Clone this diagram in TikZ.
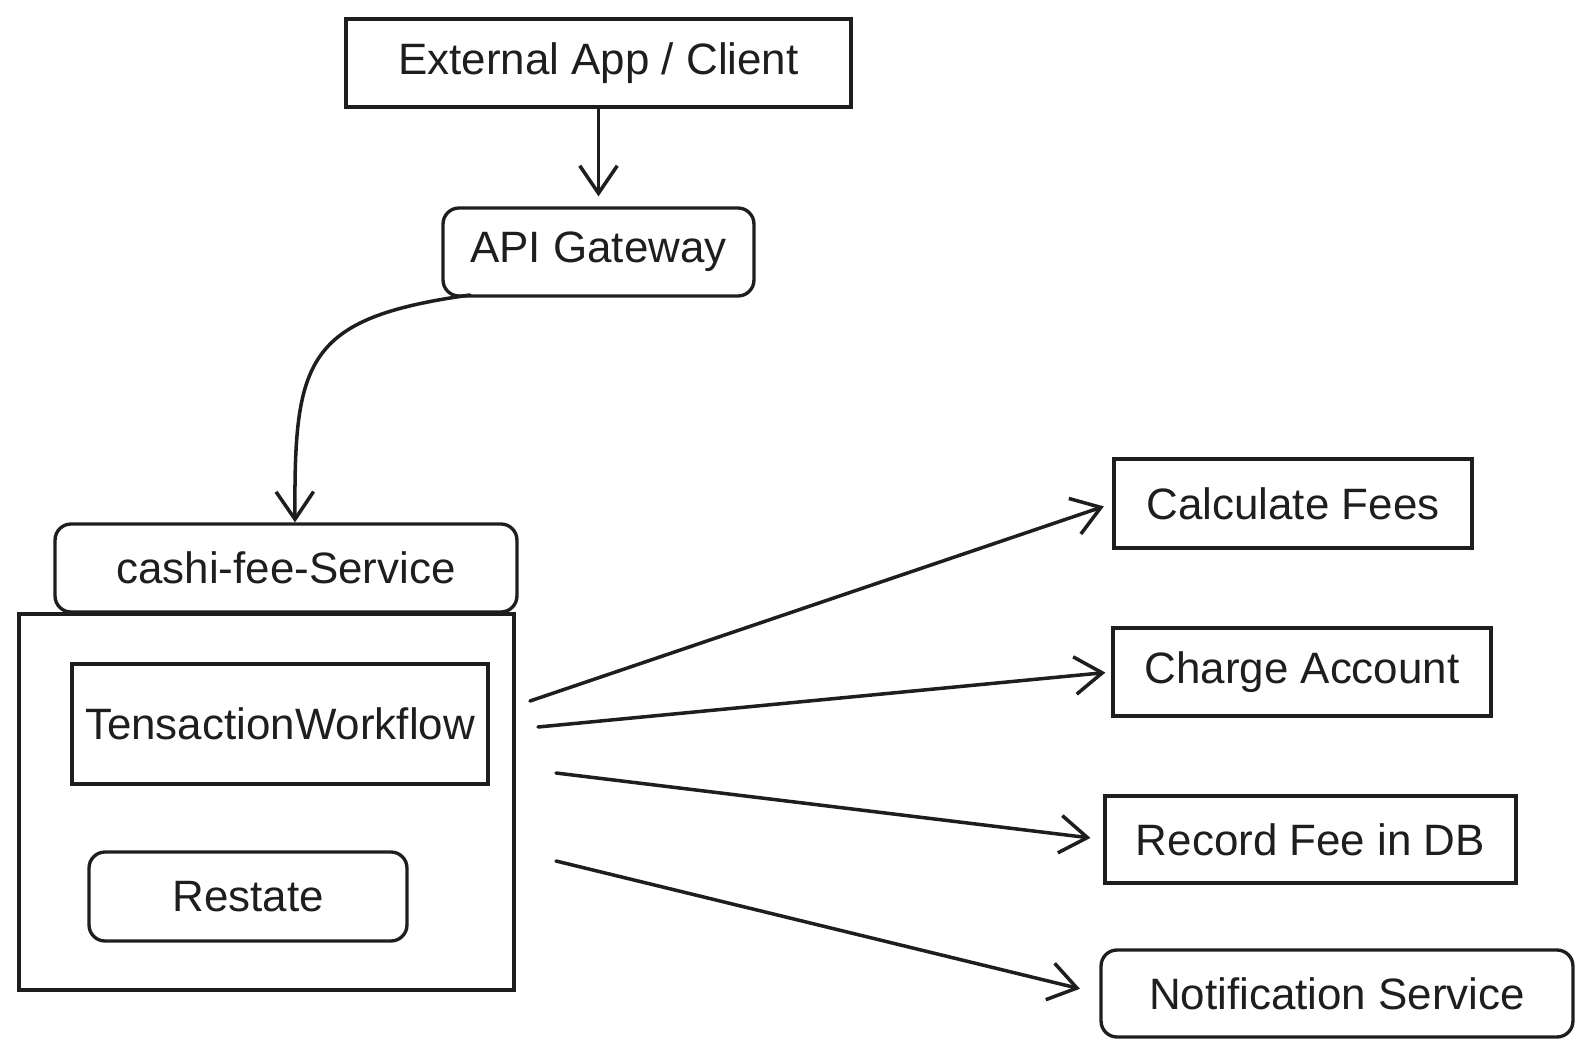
\documentclass[tikz,border=0pt]{standalone}
\usepackage{fontspec}
\setmainfont{Liberation Sans}
\usepackage{tikz}
\usetikzlibrary{arrows.meta,positioning,calc}

\definecolor{ink}{HTML}{1E1E1E}
\tikzset{
  box/.style={draw=ink, line width=1.9pt, inner sep=0pt, text=ink, font=\fontsize{25}{28}\selectfont},
  rbox/.style={box, rounded corners=0.32cm},
  flowarrow/.style={draw=ink, line width=2pt, line cap=round, -{Straight Barb[length=0.55cm, width=0.75cm, line width=2pt]}}
}

\begin{document}
\begin{tikzpicture}[x=0.02cm, y=-0.02cm]
    \useasboundingbox (0,0) rectangle (1593,1058);

    % top of the chain
    \node[box, minimum width=10.1cm, minimum height=1.76cm] (ext) at (598.5,63) {External App / Client};
    \node[rbox, minimum width=6.22cm, minimum height=1.76cm] (api) at (598.5,252) {API Gateway};

    % service block
    \node[rbox, minimum width=9.24cm, minimum height=1.76cm] (svc) at (286,568) {cashi-fee-Service};
    \node[box, minimum width=9.9cm, minimum height=7.52cm] (inner) at (266.5,802) {};
    \node[box, minimum width=8.32cm, minimum height=2.4cm] (flow) at (280,724) {TensactionWorkflow};
    \node[rbox, minimum width=6.36cm, minimum height=1.78cm] (restate) at (248,896.5) {Restate};

    % steps on the right
    \node[box, minimum width=7.16cm, minimum height=1.78cm] (calc) at (1293,503.5) {Calculate Fees};
    \node[box, minimum width=7.56cm, minimum height=1.76cm] (charge) at (1302,672) {Charge Account};
    \node[box, minimum width=8.22cm, minimum height=1.74cm] (record) at (1310.5,839.5) {Record Fee in DB};
    \node[rbox, minimum width=9.44cm, minimum height=1.74cm] (notif) at (1337,993.5) {Notification Service};

    \coordinate (apiout) at (470,295);
    \coordinate (svcin) at ($(svc.north)+(9,0)$);
    \coordinate (s1) at (530,701);
    \coordinate (s2) at (538,727);
    \coordinate (s3) at (556,773);
    \coordinate (s4) at (556,861);

    \draw[flowarrow, shorten >=0.2cm] (ext) -- (api);
    \draw[flowarrow] (apiout) .. controls (305,318) and (294,360) .. (svcin);

    \draw[flowarrow, shorten >=0.18cm] (s1) -- (calc.west);
    \draw[flowarrow, shorten >=0.12cm] (s2) -- (charge.west);
    \draw[flowarrow, shorten >=0.26cm] (s3) -- (record.west);
    \draw[flowarrow, shorten >=0.4cm] (s4) -- (notif.west);
\end{tikzpicture}
\end{document}
